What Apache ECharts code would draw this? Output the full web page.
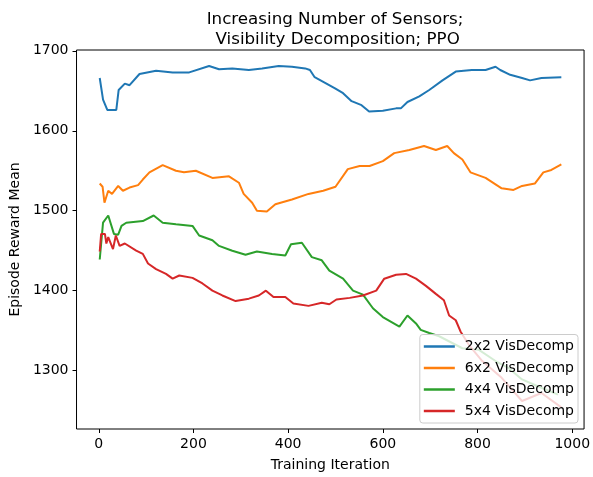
<!DOCTYPE html>
<html>
<head>
<meta charset="utf-8">
<script src="https://cdn.jsdelivr.net/npm/echarts@6/dist/echarts.min.js"></script>
<style>
  html, body { margin: 0; padding: 0; background: #fff; }
  #chart { width: 593px; height: 477px; }
</style>
</head>
<body>
<div id="chart"></div>
<script>
// values
const seriesNames = ['2x2 VisDecomp', '6x2 VisDecomp', '4x4 VisDecomp', '5x4 VisDecomp']
const seriesColors = ['#1f77b4', '#ff7f0e', '#2ca02c', '#d62728']

const iters2x2 = [2, 9, 12, 18, 37, 42, 55, 65, 86, 121, 156, 191, 233, 254, 282, 317, 345, 380, 408, 436, 446, 456, 478, 499, 516, 534, 555, 571, 600, 628, 638, 652, 677, 698, 726, 754, 788, 817, 838, 848, 869, 894, 911, 935, 977]
const reward2x2 = [1666, 1639, 1641, 1626, 1626, 1651, 1659, 1657, 1671, 1675, 1673, 1673, 1681, 1677, 1678, 1676, 1678, 1681, 1680, 1678, 1676, 1667, 1660, 1653, 1647, 1637, 1632, 1624, 1625, 1628, 1628, 1636, 1643, 1651, 1663, 1674, 1676, 1676, 1680, 1676, 1670, 1666, 1663, 1666, 1667]

const iters6x2 = [2, 8, 12, 20, 28, 41, 51, 65, 83, 93, 107, 135, 163, 180, 205, 240, 275, 296, 306, 324, 334, 355, 373, 408, 443, 474, 500, 526, 551, 572, 600, 624, 656, 687, 712, 736, 750, 768, 785, 817, 838, 851, 876, 894, 921, 939, 956, 977]
const reward6x2 = [1534, 1530, 1510, 1525, 1521, 1531, 1525, 1529, 1532, 1539, 1548, 1557, 1550, 1548, 1550, 1541, 1543, 1535, 1521, 1510, 1500, 1499, 1508, 1514, 1521, 1525, 1530, 1552, 1556, 1556, 1562, 1572, 1576, 1581, 1576, 1581, 1572, 1564, 1548, 1541, 1533, 1528, 1526, 1531, 1534, 1548, 1551, 1558]

const iters4x4 = [2, 9, 20, 24, 32, 41, 48, 58, 93, 116, 135, 163, 198, 212, 240, 254, 282, 310, 334, 366, 394, 406, 429, 450, 471, 487, 516, 537, 558, 579, 600, 635, 652, 670, 680, 698, 719, 768, 803, 838, 866, 894, 921, 970]
const reward4x4 = [1439, 1485, 1494, 1493, 1471, 1470, 1481, 1485, 1487, 1494, 1485, 1483, 1481, 1469, 1463, 1456, 1450, 1445, 1449, 1446, 1444, 1458, 1460, 1442, 1438, 1425, 1415, 1400, 1395, 1378, 1367, 1355, 1369, 1359, 1351, 1347, 1343, 1328, 1326, 1312, 1303, 1289, 1282, 1270]

const iters5x4 = [2, 5, 13, 16, 20, 30, 36, 44, 55, 79, 93, 104, 121, 142, 156, 170, 198, 219, 240, 261, 289, 317, 338, 353, 369, 394, 411, 443, 471, 487, 502, 530, 558, 586, 603, 628, 649, 670, 691, 712, 729, 740, 754, 764, 782, 810, 851, 894, 935, 977]
const reward5x4 = [1449, 1471, 1471, 1459, 1467, 1452, 1469, 1456, 1459, 1450, 1446, 1434, 1427, 1421, 1415, 1419, 1416, 1409, 1400, 1394, 1387, 1390, 1394, 1400, 1392, 1392, 1384, 1381, 1385, 1383, 1389, 1391, 1394, 1400, 1415, 1420, 1421, 1415, 1406, 1396, 1388, 1369, 1363, 1349, 1332, 1312, 1291, 1262, 1272, 1254]

const xTicks = [0, 200, 400, 600, 800, 1000]
const yTicks = [1300, 1400, 1500, 1600, 1700]

const FONT = 'DejaVu Sans'

// zip x / y arrays into [x, y] pairs
function pairs(xs, ys) {
    return xs.map((x, i) => [x, ys[i]])
}

const allData = [
    pairs(iters2x2, reward2x2),
    pairs(iters6x2, reward6x2),
    pairs(iters4x4, reward4x4),
    pairs(iters5x4, reward5x4)
]

function makeAxis(min, max, ticks, name, gap, labelMargin) {
    return {
        type: 'value',
        min: min,
        max: max,
        name: name,
        nameLocation: 'middle',
        nameGap: gap,
        nameTextStyle: { color: '#000', fontFamily: FONT, fontSize: 14 },
        splitLine: { show: false },
        axisLine: { show: false, onZero: false },
        axisTick: { show: true, length: 4, lineStyle: { color: '#000' }, customValues: ticks },
        axisLabel: {
            color: '#000', fontFamily: FONT, fontSize: 14, margin: labelMargin,
            customValues: ticks,
            formatter: v => String(v)
        }
    }
}

const chart = echarts.init(document.getElementById('chart'))

const option = {
    animation: false,
    backgroundColor: '#fff',
    title: {
        text: 'Increasing Number of Sensors;\n Visibility Decomposition; PPO',
        left: 330,
        top: 5,
        textAlign: 'center',
        textStyle: { color: '#000', fontFamily: FONT, fontSize: 16.7, fontWeight: 'normal', lineHeight: 20 }
    },
    grid: {
        left: 75, right: 8, top: 50, bottom: 45,
        show: true, borderColor: '#000', borderWidth: 1
    },
    legend: {
        orient: 'vertical',
        right: 15,
        bottom: 54,
        data: seriesNames,
        icon: 'rect',
        itemWidth: 31,
        itemHeight: 2.5,
        itemGap: 7.5,
        padding: [5, 4, 5, 4],
        backgroundColor: 'rgba(255,255,255,0.8)',
        borderColor: '#cccccc',
        borderWidth: 1,
        borderRadius: 3,
        textStyle: { color: '#000', fontFamily: FONT, fontSize: 14, padding: [0, 0, 0, 5] }
    },
    xAxis: makeAxis(-47, 1025, xTicks, 'Training Iteration', 29, 8),
    yAxis: makeAxis(1227, 1701, yTicks, 'Episode Reward Mean', 50, 8),
    series: allData.map((d, i) => ({
        name: seriesNames[i],
        type: 'line',
        data: d,
        showSymbol: false,
        symbol: 'none',
        color: seriesColors[i],
        lineStyle: { width: 2, color: seriesColors[i] }
    }))
}

chart.setOption(option)
</script>
</body>
</html>
